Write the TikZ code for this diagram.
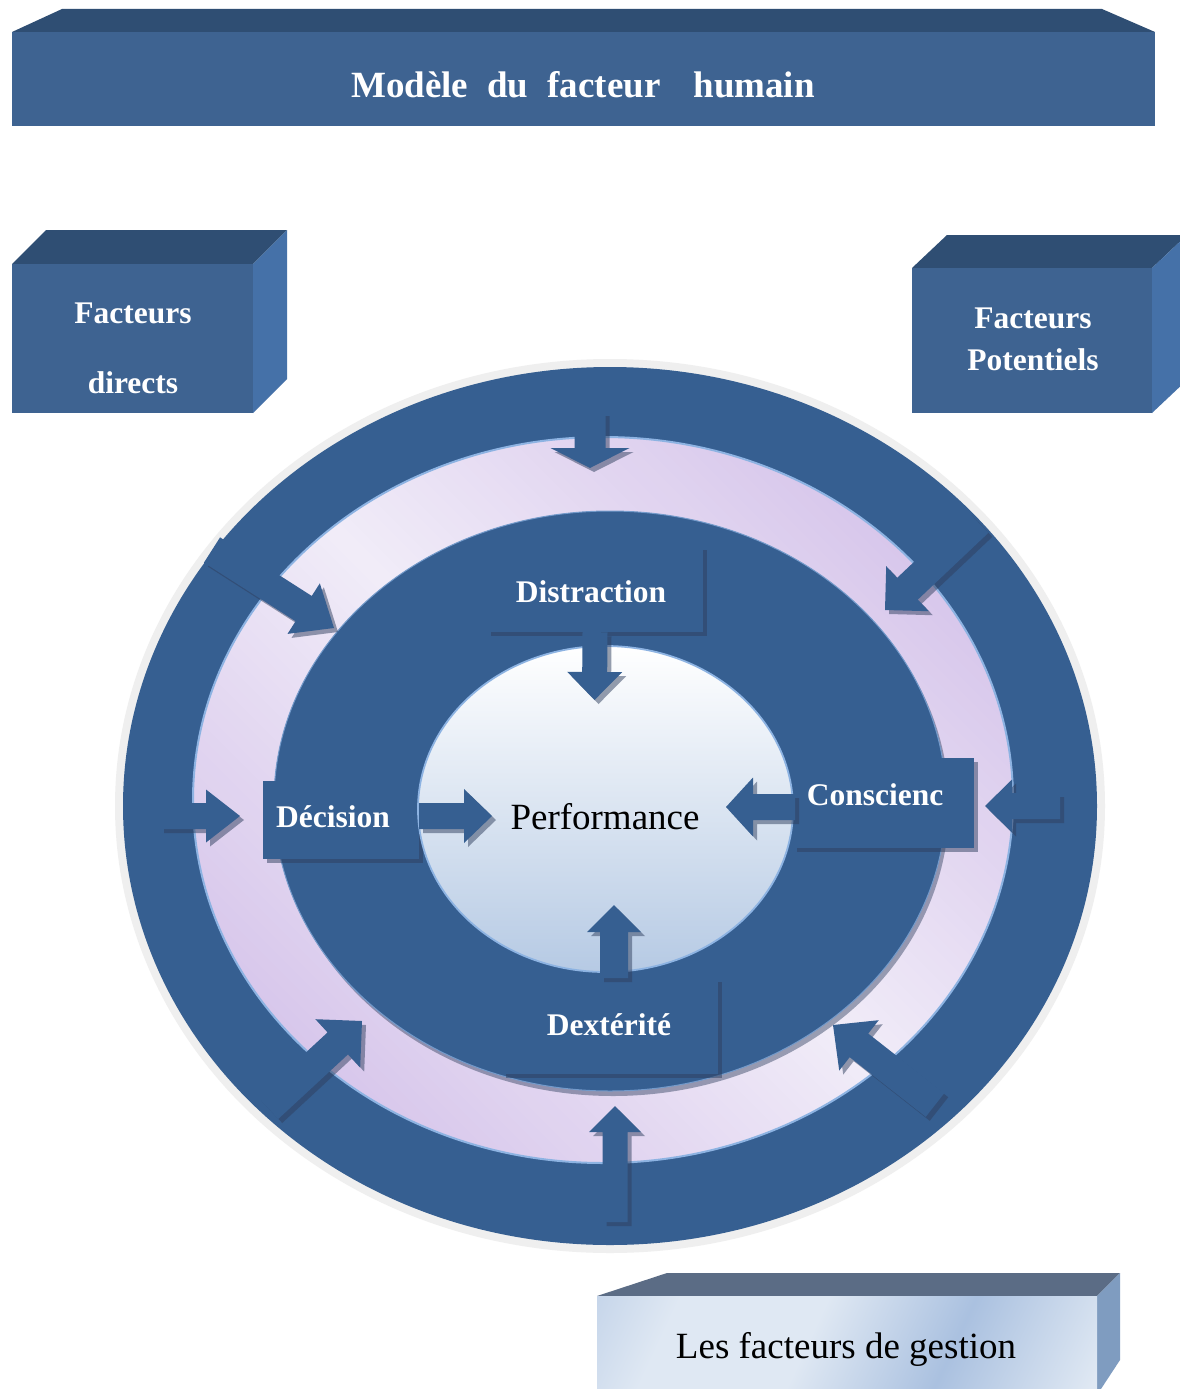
\documentclass[tikz,border=0pt]{standalone}
\usepackage{fontspec}
\setmainfont{Liberation Serif}
\usetikzlibrary{calc,shadows}

\definecolor{ringblue}{HTML}{365F91}
\definecolor{boxfront}{HTML}{3E6391}
\definecolor{boxtop}{HTML}{2F4E73}
\definecolor{boxside}{HTML}{4571A8}
\definecolor{rimgray}{HTML}{EFEFEF}
\definecolor{lavlight}{HTML}{F1ECF8}
\definecolor{lavdark}{HTML}{D7C6EB}
\definecolor{edgeblue}{HTML}{8DB3E2}
\definecolor{coreblue}{HTML}{B6CAE4}
\definecolor{shadowc}{HTML}{2F3F5E}
\definecolor{gtop}{HTML}{5B6C85}
\definecolor{gside}{HTML}{7F9CC0}
\definecolor{glight}{HTML}{DFE8F3}
\definecolor{gblue}{HTML}{9DB7DB}

\pgfdeclarehorizontalshading{gestfill}{100bp}{color(0bp)=(gblue); color(27bp)=(glight); color(45bp)=(glight); color(63bp)=(gblue!80!glight); color(82bp)=(glight); color(100bp)=(glight)}

\tikzset{
  boxlabel/.style={text=white, font=\fontsize{31.5}{36}\selectfont\bfseries, anchor=base, inner sep=0pt},
  darklabel/.style={text=black, font=\fontsize{37}{44}\selectfont, anchor=base, inner sep=0pt},
  panel/.style={rectangle, fill=ringblue, inner sep=0pt,
    drop shadow={shadow xshift=4pt, shadow yshift=-4pt, fill=shadowc, opacity=0.5}},
  arrowshade/.style={fill=shadowc, fill opacity=0.5, transform canvas={shift={(4pt,-4pt)}}},
  arrowbody/.style={fill=ringblue}
}

% block arrow: #1 name, #2 tail, #3 tip, #4 half shaft width, #5 half head width, #6 head length
\newcommand\blockarrow[6]{%
  \coordinate (#1-b) at ($(#3)!#6!(#2)$);
  \coordinate (#1-1) at ($(#2)!#4!90:(#3)$);
  \coordinate (#1-2) at ($(#1-b)!#4!90:(#3)$);
  \coordinate (#1-3) at ($(#1-b)!#5!90:(#3)$);
  \coordinate (#1-4) at ($(#1-b)!#5!-90:(#3)$);
  \coordinate (#1-5) at ($(#1-b)!#4!-90:(#3)$);
  \coordinate (#1-6) at ($(#2)!#4!-90:(#3)$);
  \fill[arrowshade] (#1-1) -- (#1-2) -- (#1-3) -- (#3) -- (#1-4) -- (#1-5) -- (#1-6) -- cycle;
  \fill[arrowbody] (#1-1) -- (#1-2) -- (#1-3) -- (#3) -- (#1-4) -- (#1-5) -- (#1-6) -- cycle;
}

\begin{document}
\begin{tikzpicture}[x=1pt,y=-1pt]
\useasboundingbox (0,0) rectangle (1179,1389);
\fill[white] (0,0) rectangle (1179,1389);

% title slab
\fill[boxtop] (12,32) -- (62,9) -- (1102,9) -- (1155,32) -- cycle;
\fill[boxfront] (12,32) rectangle (1155,126);
\node[text=white, font=\fontsize{37}{44}\selectfont\bfseries, anchor=base, inner sep=0pt]
  (title) at (583,97) {Modèle\hspace{19pt}du\hspace{19pt}facteur\hspace{33pt}humain};

% left block
\fill[boxtop] (12,264) -- (46,230) -- (287,230) -- (253,264) -- cycle;
\fill[boxside] (253,264) -- (287,230) -- (287,379) -- (253,413) -- cycle;
\fill[boxfront] (12,264) rectangle (253,413);
\node[boxlabel] (fdir1) at (133,323) {Facteurs};
\node[boxlabel] (fdir2) at (133,393) {directs};

% right block
\fill[boxtop] (912,268) -- (947,235) -- (1187,235) -- (1152,268) -- cycle;
\fill[boxside] (1152,268) -- (1187,235) -- (1187,380) -- (1152,413) -- cycle;
\fill[boxfront] (912,268) rectangle (1152,413);
\node[boxlabel] (fpot1) at (1033,328) {Facteurs};
\node[boxlabel] (fpot2) at (1033,370) {Potentiels};

% bottom block
\fill[gtop] (597,1296) -- (667,1273) -- (1120,1273) -- (1097,1296) -- cycle;
\fill[gside] (1097,1296) -- (1120,1273) -- (1120,1360) -- (1097,1395) -- cycle;
\shade[shading=gestfill, shading angle=-25] (597,1296) rectangle (1097,1395);
\node[darklabel] (gest) at (846,1358) {Les facteurs de gestion};

% rings
\fill[rimgray] (610,806) ellipse [x radius=495, y radius=447];
\fill[ringblue] (610,806) ellipse [x radius=487, y radius=439];
% lavender band: light along the NW-SE diagonal, deeper towards NE and SW
\begin{scope}
  \clip (603,800) ellipse [x radius=410, y radius=363];
  \begin{scope}[rotate around={-45:(603,800)}]
    \foreach \i in {0,...,79}{
      \pgfmathsetmacro\pct{100*abs(\i-39.5)/39.5}
      \fill[lavdark!\pct!lavlight] (103,{400+\i*10}) rectangle (1103,{411+\i*10});
    }
  \end{scope}
\end{scope}
\draw[edgeblue, line width=2pt] (603,800) ellipse [x radius=410, y radius=363];
\fill[shadowc, opacity=0.45] (613,806) ellipse [x radius=336, y radius=290];
\fill[ringblue] (610,801) ellipse [x radius=336, y radius=290];
\draw[edgeblue!70!ringblue, line width=1pt] (610,801) ellipse [x radius=336, y radius=290];

% inner panels
\node[panel, minimum width=216pt, minimum height=86pt] (dist) at (595,589) {};
\node[panel, minimum width=156pt, minimum height=78pt] (deci) at (341,820) {};
\node[panel, minimum width=181pt, minimum height=90pt] (consc) at (883.5,803) {};
\node[panel, minimum width=216pt, minimum height=96pt] (dext) at (610,1026) {};

% core
\shade[top color=white, bottom color=coreblue] (605.5,809) ellipse [x radius=187.5, y radius=163];
\draw[edgeblue, line width=1.8pt] (605.5,809) ellipse [x radius=187.5, y radius=163];

% arrow end points on the outer ring
\coordinate (nT) at (590,412);   \coordinate (nH) at (590,468);
\coordinate (neT) at (978,522);  \coordinate (neH) at (885,610);
\coordinate (eT) at (1060,806);  \coordinate (eH) at (985,806);
\coordinate (seT) at (935,1105); \coordinate (seH) at (833,1025);
\coordinate (sT) at (615,1222);  \coordinate (sH) at (615,1106);
\coordinate (swT) at (268,1108); \coordinate (swH) at (362,1021);
\coordinate (wT) at (160,816);   \coordinate (wH) at (240,816);
\coordinate (nwT) at (212,550);  \coordinate (nwH) at (334,628);

\blockarrow{aN}{nT}{nH}{15.5pt}{39.5pt}{20pt}
\blockarrow{aNE}{neT}{neH}{15pt}{31pt}{31pt}
\blockarrow{aE}{eT}{eH}{13pt}{26.5pt}{27pt}
\blockarrow{aSE}{seT}{seH}{15pt}{32pt}{33pt}
\blockarrow{aS}{sT}{sH}{12.5pt}{26pt}{26pt}
\blockarrow{aSW}{swT}{swH}{15pt}{33pt}{33pt}
\blockarrow{aW}{wT}{wH}{13pt}{26.5pt}{34pt}
\blockarrow{aNW}{nwT}{nwH}{15pt}{30pt}{36pt}

% arrows from the panels into the core
\coordinate (distH) at (594.5,700);
\coordinate (deciT) at (419,816);  \coordinate (deciH) at (492,816);
\coordinate (conscT) at (795,807); \coordinate (conscH) at (726,807);
\coordinate (dextT) at (614,978);  \coordinate (dextH) at (614,905);
\blockarrow{iN}{dist.south}{distH}{12.5pt}{27.5pt}{28pt}
\blockarrow{iW}{deciT}{deciH}{13pt}{27pt}{28pt}
\blockarrow{iE}{conscT}{conscH}{13pt}{29.5pt}{27pt}
\blockarrow{iS}{dextT}{dextH}{14pt}{27pt}{27pt}

% labels
\node[boxlabel] (distL) at (591,602) {Distraction};
\node[boxlabel] (deciL) at (333,827) {Décision};
\node[boxlabel] (conscL) at (875,805) {Conscienc};
\node[boxlabel] (dextL) at (609,1035) {Dextérité};
\node[darklabel] (perf) at (605,829) {Performance};
\end{tikzpicture}
\end{document}
